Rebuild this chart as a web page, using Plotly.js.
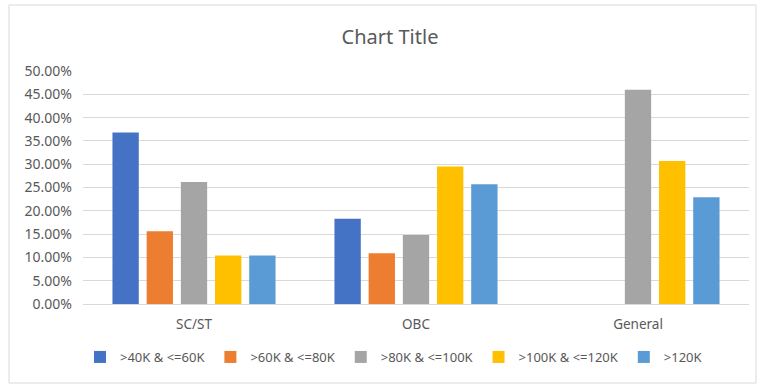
<!DOCTYPE html>
<html>
<head>
<meta charset="utf-8">
<script src="https://cdn.plot.ly/plotly-3.0.1.min.js"></script>
<style>html,body{margin:0;padding:0;background:#fff;}#chart{width:757px;height:385px;}</style>
</head>
<body>
<div id="chart"></div>
<script>
const categories = ["SC/ST", "OBC", "General"];
const seriesNames = [">40K & <=60K", ">60K & <=80K", ">80K & <=100K", ">100K & <=120K", ">120K"];
const s40to60 = [0.368, 0.183, null];
const s60to80 = [0.156, 0.109, null];
const s80to100 = [0.262, 0.148, 0.460];
const s100to120 = [0.104, 0.295, 0.307];
const s120plus = [0.104, 0.257, 0.229];
const colors = ["#4472C4", "#ED7D31", "#A5A5A5", "#FFC000", "#5B9BD5"];
const allSeries = [s40to60, s60to80, s80to100, s100to120, s120plus];

const font = "Noto Sans, DejaVu Sans, sans-serif";
const traces = allSeries.map((vals, i) => ({
  type: "bar",
  name: seriesNames[i],
  x: categories,
  y: vals,
  marker: {color: colors[i]},
  hoverinfo: "none"
}));

const layout = {
  width: 757, height: 385,
  margin: {l: 83, r: 8, t: 71, b: 81},
  paper_bgcolor: "#ffffff",
  plot_bgcolor: "#ffffff",
  barmode: "group",
  bargap: 0.23,
  bargroupgap: 0.23,
  font: {family: font, color: "#595959", size: 13},
  title: {text: "Chart Title", font: {family: font, size: 20, color: "#595959"}, x: 390/757, xanchor: "center", y: 1 - 37/385, yanchor: "middle"},
  xaxis: {
    showgrid: false, showline: true, linecolor: "#D9D9D9", linewidth: 1,
    ticks: "", tickfont: {size: 13.5, color: "#595959"}, ticklabelstandoff: 8, fixedrange: true
  },
  yaxis: {
    range: [0, 0.5], dtick: 0.05, tickformat: ".2%",
    showgrid: true, gridcolor: "#D9D9D9", gridwidth: 1, zeroline: false, showline: false,
    ticks: "", tickfont: {size: 14, color: "#595959"}, ticklabelstandoff: 10, fixedrange: true
  },
  showlegend: true,
  legend: {
    orientation: "h", x: (394-83)/666, xanchor: "center", y: (304-357)/233, yanchor: "middle",
    font: {size: 13, color: "#595959"}, itemwidth: 30, traceorder: "normal"
  },
  shapes: [{
    type: "rect", xref: "paper", yref: "paper",
    x0: (9-83)/666, x1: (756-83)/666, y0: (304-383)/233, y1: (304-5)/233,
    line: {color: "#D9D9D9", width: 1}, fillcolor: "rgba(0,0,0,0)", layer: "below"
  }]
};

Plotly.newPlot("chart", traces, layout, {staticPlot: true, displayModeBar: false});
</script>
</body>
</html>
